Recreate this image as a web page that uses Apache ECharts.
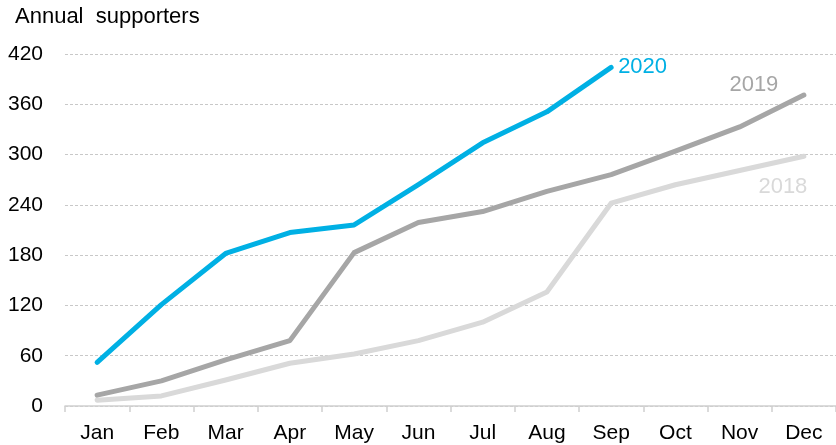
<!DOCTYPE html>
<html>
<head>
<meta charset="utf-8">
<script src="https://cdn.jsdelivr.net/npm/echarts@6/dist/echarts.min.js"></script>
<style>
  html, body { margin: 0; padding: 0; background: #ffffff; }
  #chart { width: 836px; height: 445px; }
</style>
</head>
<body>
<div id="chart"></div>
<script>
const months = ['Jan','Feb','Mar','Apr','May','Jun','Jul','Aug','Sep','Oct','Nov','Dec'];
const values2020 = [52, 121, 182, 207, 216, 264, 314, 351, 404];
const values2019 = [13, 30, 55, 78, 183, 219, 232, 256, 276, 304, 333, 371];
const values2018 = [7, 12, 31, 51, 62, 78, 100, 136, 242, 264, 281, 298];
const yTicks = [0, 60, 120, 180, 240, 300, 360, 420];

const FONT = '"Liberation Sans", Arial, sans-serif';
const C2020 = '#00B0E4';
const C2019 = '#A6A6A6';
const C2018 = '#D9D9D9';

function endMark(values, name, color, position, offset, distance) {
  const last = values.length - 1;
  return {
    symbol: 'circle',
    symbolSize: 0,
    silent: true,
    data: [{
      coord: [last, values[last]],
      label: {
        show: true,
        formatter: name,
        position: position,
        offset: offset,
        distance: distance,
        color: color,
        fontSize: 22,
        fontFamily: FONT
      }
    }]
  };
}

function lineSeries(name, values, color, mark) {
  return {
    name: name,
    type: 'line',
    data: values,
    showSymbol: false,
    symbol: 'none',
    lineStyle: { color: color, width: 5, cap: 'round', join: 'round' },
    itemStyle: { color: color },
    emphasis: { disabled: true },
    animation: false,
    markPoint: mark
  };
}

const chart = echarts.init(document.getElementById('chart'), null, { renderer: 'canvas' });
chart.setOption({
  animation: false,
  backgroundColor: '#ffffff',
  textStyle: { fontFamily: FONT },
  grid: { left: 65, right: -5, top: 54, bottom: 39, containLabel: false },
  graphic: [{
    type: 'text',
    left: 15,
    top: 6,
    style: { text: 'Annual  supporters', fontSize: 22, fontFamily: FONT, fill: '#000000' }
  }],
  xAxis: {
    type: 'category',
    data: months,
    boundaryGap: true,
    axisLine: { show: true, lineStyle: { color: '#D0D0D0', width: 1.5 } },
    axisTick: { show: true, alignWithLabel: false, length: 6, lineStyle: { color: '#D0D0D0', width: 1.5 } },
    axisLabel: { color: '#000000', fontSize: 21, fontFamily: FONT, margin: 17 },
    splitLine: { show: false }
  },
  yAxis: {
    type: 'value',
    min: yTicks[0],
    max: yTicks[yTicks.length - 1],
    interval: 60,
    axisLine: { show: false },
    axisTick: { show: false },
    axisLabel: { color: '#000000', fontSize: 21, fontFamily: FONT, margin: 22 },
    splitLine: { show: true, lineStyle: { color: '#C8C8C8', type: [3, 2], width: 1 } }
  },
  series: [
    lineSeries('2018', values2018, C2018, endMark(values2018, '2018', C2018, 'inside', [-21, 31], 0)),
    lineSeries('2019', values2019, C2019, endMark(values2019, '2019', C2019, 'inside', [-50, -10], 0)),
    lineSeries('2020', values2020, C2020, endMark(values2020, '2020', C2020, 'right', [0, 0], 7))
  ]
});
</script>
</body>
</html>
